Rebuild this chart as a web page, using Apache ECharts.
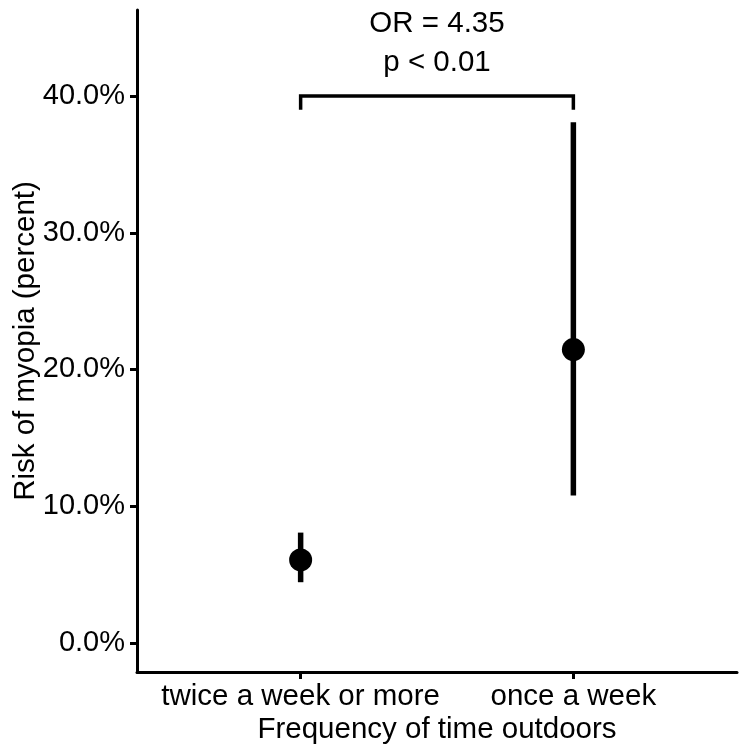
<!DOCTYPE html>
<html>
<head>
<meta charset="utf-8">
<script src="https://cdn.jsdelivr.net/npm/echarts@6/dist/echarts.min.js"></script>
<style>
html,body{margin:0;padding:0;background:#fff;}
#chart{width:744px;height:754px;}
</style>
</head>
<body>
<div id="chart"></div>
<script>
// ---- data ----
const categories = ['twice a week or more', 'once a week'];
const risk = [6.06, 21.45];
const ciLow = [4.43, 10.78];
const ciHigh = [8.06, 38.08];
const yTicks = [0, 10, 20, 30, 40];
const bracketY = 40;
const bracketTipY = 39;
const annotationLines = ['OR = 4.35', 'p < 0.01'];

const FONT = 'Liberation Sans, Arial, Helvetica, sans-serif';
const FS = 29.5;
const chart = echarts.init(document.getElementById('chart'), null, {renderer: 'canvas'});

const xPos = categories.map((c, i) => i + 1);
const pointData = xPos.map((x, i) => [x, risk[i]]);
const ciData = xPos.map((x, i) => [x, ciLow[i], ciHigh[i]]);

const option = {
  animation: false,
  backgroundColor: '#fff',
  grid: {left: 137, right: 7, top: 10, bottom: 82, containLabel: false, outerBoundsMode: 'none'},
  xAxis: {
    type: 'value',
    min: 0.4, max: 2.6,
    name: 'Frequency of time outdoors',
    nameLocation: 'middle',
    nameGap: 43,
    nameMoveOverlap: false,
    nameTextStyle: {fontSize: FS, color: '#000', fontFamily: FONT},
    axisLine: {show: true, onZero: false, lineStyle: {color: '#000', width: 3}},
    axisTick: {show: true, customValues: xPos, length: 7, lineStyle: {color: '#000', width: 3}},
    axisLabel: {
      customValues: xPos, margin: 10, fontSize: FS, color: '#000', fontFamily: FONT,
      formatter: v => categories[Math.round(v) - 1] || ''
    },
    splitLine: {show: false}
  },
  yAxis: {
    type: 'value',
    min: -2.14, max: 46.3,
    name: 'Risk of myopia (percent)',
    nameLocation: 'middle',
    nameGap: 96,
    nameMoveOverlap: false,
    nameTextStyle: {fontSize: FS, color: '#000', fontFamily: FONT},
    axisLine: {show: true, onZero: false, lineStyle: {color: '#000', width: 3}},
    axisTick: {show: true, customValues: yTicks, length: 7, lineStyle: {color: '#000', width: 3}},
    axisLabel: {
      customValues: yTicks, margin: 12, fontSize: 29, color: '#000', fontFamily: FONT,
      formatter: v => v.toFixed(1) + '%'
    },
    splitLine: {show: false}
  },
  series: [
    {
      type: 'custom',
      data: ciData,
      renderItem: function (params, api) {
        const x = api.value(0);
        const p1 = api.coord([x, api.value(1)]);
        const p2 = api.coord([x, api.value(2)]);
        return {
          type: 'line',
          shape: {x1: p1[0], y1: p1[1], x2: p2[0], y2: p2[1]},
          style: {stroke: '#000', lineWidth: 5.5}
        };
      },
      z: 2
    },
    {
      type: 'scatter',
      data: pointData,
      symbol: 'circle',
      symbolSize: 23,
      itemStyle: {color: '#000', opacity: 1},
      z: 3
    },
    {
      type: 'custom',
      data: [[xPos[0], xPos[1], bracketY, bracketTipY]],
      clip: false,
      renderItem: function (params, api) {
        const a = api.coord([api.value(0), api.value(3)]);
        const b = api.coord([api.value(0), api.value(2)]);
        const c = api.coord([api.value(1), api.value(2)]);
        const d = api.coord([api.value(1), api.value(3)]);
        const cx = (b[0] + c[0]) / 2;
        return {
          type: 'group',
          children: [
            {
              type: 'polyline',
              shape: {points: [a, b, c, d]},
              style: {stroke: '#000', lineWidth: 3.5, fill: null}
            },
            {
              type: 'text',
              style: {text: annotationLines[0], x: cx, y: b[1] - 72, align: 'center', verticalAlign: 'middle',
                      fontSize: FS, fontFamily: FONT, fill: '#000'}
            },
            {
              type: 'text',
              style: {text: annotationLines[1], x: cx, y: b[1] - 33, align: 'center', verticalAlign: 'middle',
                      fontSize: FS, fontFamily: FONT, fill: '#000'}
            }
          ]
        };
      },
      z: 4
    }
  ]
};
chart.setOption(option);
</script>
</body>
</html>
